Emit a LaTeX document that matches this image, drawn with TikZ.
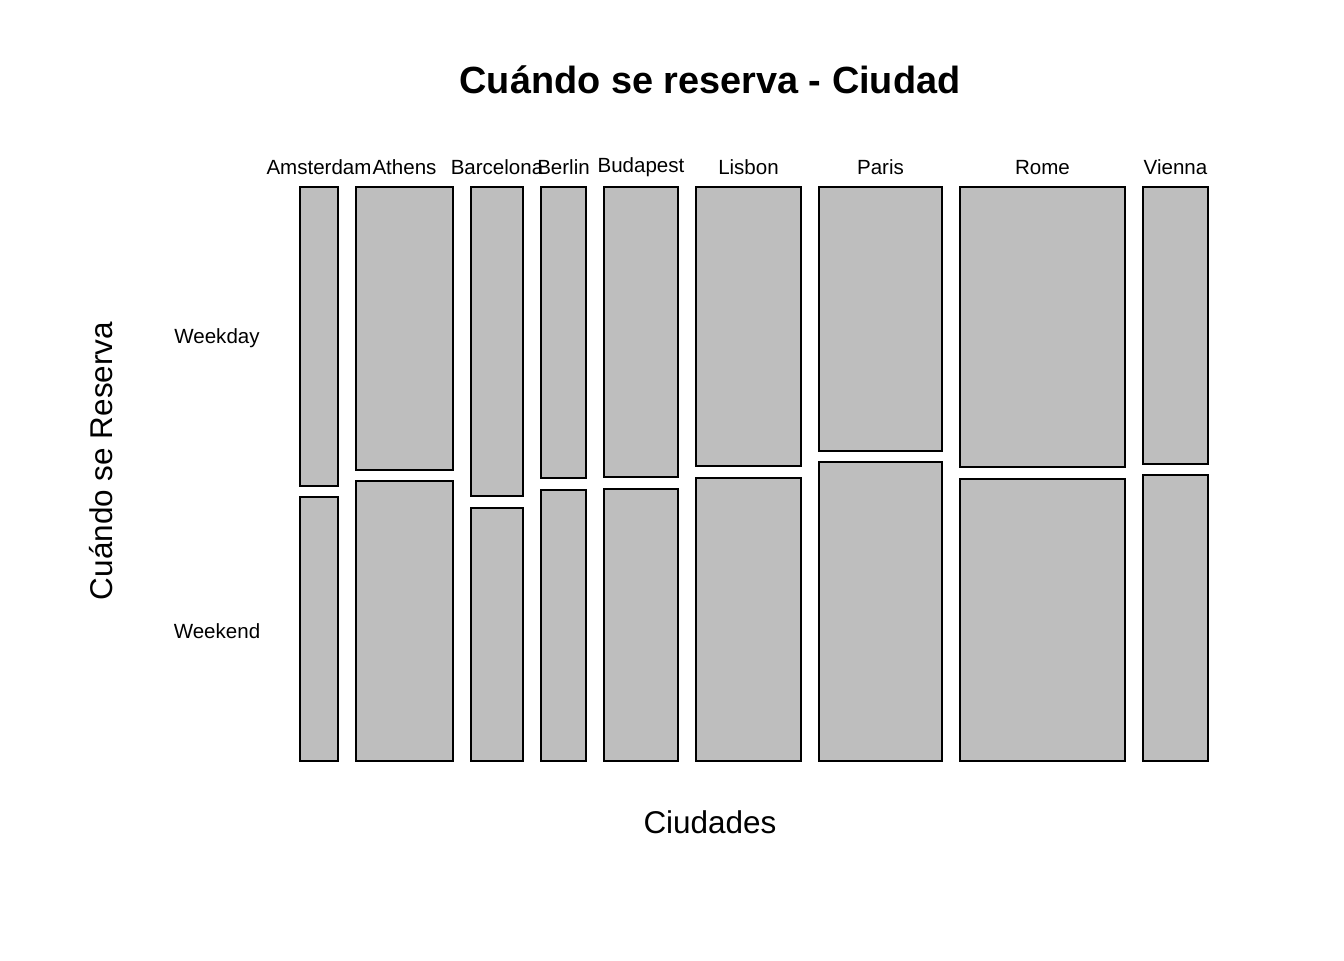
\documentclass[tikz,border=0pt]{standalone}
\usepackage{fontspec}
\setmainfont{Liberation Sans}
\definecolor{cellgray}{RGB}{190,190,190}
\begin{document}
\begin{tikzpicture}[x=0.375pt,y=-0.375pt,
  cell/.style={draw=black,fill=cellgray,line width=0.75pt},
  ticklab/.style={inner sep=0pt,anchor=base,font=\fontsize{7.7}{9}\selectfont},
  axislab/.style={inner sep=0pt,anchor=base,font=\fontsize{11.8}{14}\selectfont},
  titlelab/.style={inner sep=0pt,anchor=base,font=\fontsize{14.2}{17}\selectfont\bfseries}]
\useasboundingbox (0,0) rectangle (1344,960);
\fill[white] (0,0) rectangle (1344,960);
\foreach \nm/\xa/\xb/\ybot/\ytop/\bline in {
  Amsterdam/300/338/486/497/174,
  Athens/356/453/470/481/174,
  Barcelona/471/523/496/508/174,
  Berlin/541/586/478/490/174,
  Budapest/604/678/477/489/172,
  Lisbon/696/801/466/478/174,
  Paris/819/942/451/462/174,
  Rome/960/1125/467/479/174,
  Vienna/1143/1208/464/475/174}{
  \draw[cell] (\xa,187) rectangle (\xb,\ybot);
  \draw[cell] (\xa,\ytop) rectangle (\xb,761);
  \node[ticklab] (lab\nm) at ({(\xa+\xb)/2},\bline) {\nm};
}
\node[ticklab] (weekday) at (217,343) {Weekday};
\node[ticklab] (weekend) at (217,638) {Weekend};
\node[titlelab] (title) at (710,93) {Cuándo se reserva - Ciudad};
\node[axislab] (xlab) at (710,833) {Ciudades};
\node[axislab,rotate=90] (ylab) at (112,461) {Cuándo se Reserva};
\end{tikzpicture}
\end{document}
